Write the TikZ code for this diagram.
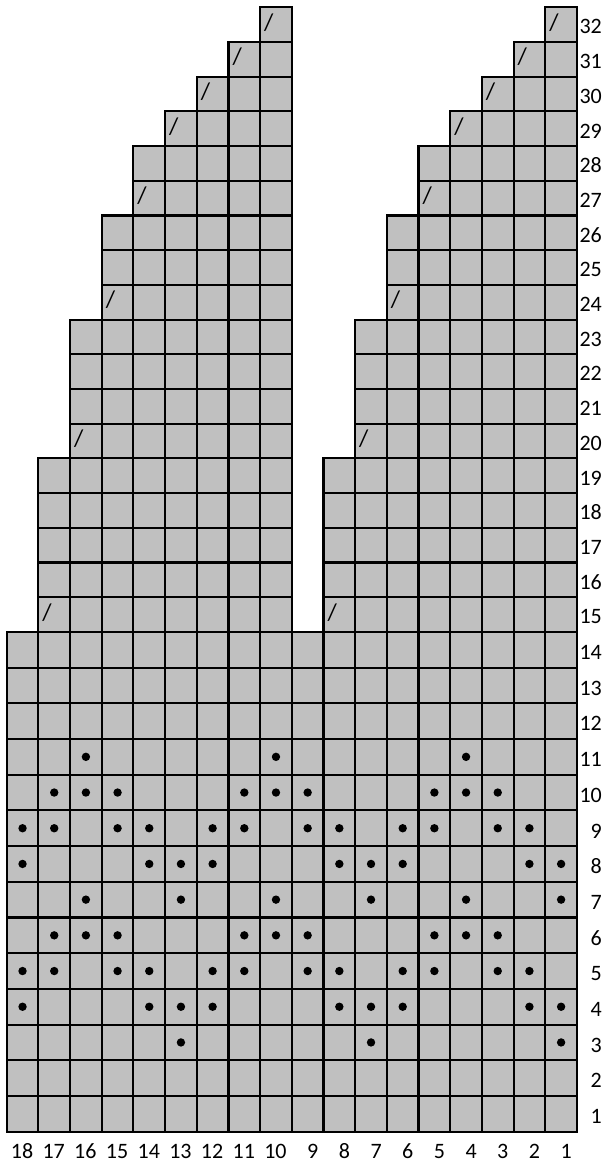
\documentclass[tikz,border=0pt]{standalone}
\usepackage{fontspec}
\setmainfont{Carlito}
\definecolor{cellgray}{HTML}{C0C0C0}
\begin{document}
\begin{tikzpicture}[x=1pt,y=1pt,
  cell/.style={fill=cellgray,draw=black,line width=2.1pt},
  stitchdot/.style={circle,fill=black,draw=none,inner sep=0pt,minimum size=8.4pt},
  lbl/.style={font=\fontsize{22}{24}\selectfont,inner sep=0pt},
  slashmark/.style={font=\fontsize{24}{26}\selectfont,inner sep=0pt}]
\useasboundingbox (0,0) rectangle (606,1163);
\def\xo{6.7}\def\cw{31.68}\def\yb{31.3}\def\rhl{35.7}\def\rhu{34.7}
% row bottom and height
\def\rowgeom#1{%
  \pgfmathsetmacro\yy{(#1<=14) ? (\yb+(#1-1)*\rhl) : (\yb+14*\rhl+(#1-15)*\rhu)}%
  \pgfmathsetmacro\hh{(#1<=14) ? \rhl : \rhu}}
% grid cells
\foreach \r/\L/\R in {1/18/9,2/18/9,3/18/9,4/18/9,5/18/9,6/18/9,7/18/9,8/18/9,9/18/9,10/18/9,11/18/9,12/18/9,13/18/9,14/18/9,
  15/17/8,16/17/8,17/17/8,18/17/8,19/17/8,20/16/7,21/16/7,22/16/7,23/16/7,24/15/6,25/15/6,26/15/6,27/14/5,28/14/5,
  29/13/4,30/12/3,31/11/2,32/10/1}{
  \rowgeom{\r}
  \foreach \c in {10,...,\L}{
    \pgfmathsetmacro\xx{\xo+(18-\c)*\cw}
    \draw[cell] (\xx,\yy) rectangle ++(\cw,\hh);
  }
  \foreach \c in {1,...,\R}{
    \pgfmathsetmacro\xx{\xo+(18-\c)*\cw}
    \draw[cell] (\xx,\yy) rectangle ++(\cw,\hh);
  }
}
% dots
\foreach \c/\r in {16/11,10/11,4/11,
  17/10,16/10,15/10,11/10,10/10,9/10,5/10,4/10,3/10,
  18/9,17/9,15/9,14/9,12/9,11/9,9/9,8/9,6/9,5/9,3/9,2/9,
  18/8,14/8,13/8,12/8,8/8,7/8,6/8,2/8,1/8,
  16/7,13/7,10/7,7/7,4/7,1/7,
  17/6,16/6,15/6,11/6,10/6,9/6,5/6,4/6,3/6,
  18/5,17/5,15/5,14/5,12/5,11/5,9/5,8/5,6/5,5/5,3/5,2/5,
  18/4,14/4,13/4,12/4,8/4,7/4,6/4,2/4,1/4,
  13/3,7/3,1/3}{
  \rowgeom{\r}
  \pgfmathsetmacro\xx{\xo+(18.5-\c)*\cw}
  \pgfmathsetmacro\cy{\yy+0.5*\hh}
  \node[stitchdot] (d\c-\r) at (\xx,\cy) {};
}
% slashes
\foreach \c/\r in {17/15,8/15,16/20,7/20,15/24,6/24,14/27,5/27,13/29,4/29,12/30,3/30,11/31,2/31,10/32,1/32}{
  \rowgeom{\r}
  \pgfmathsetmacro\xx{\xo+(18-\c)*\cw+8.7}
  \pgfmathsetmacro\cy{\yy+\hh-15}
  \node[slashmark] (s\c-\r) at (\xx,\cy) {/};
}
% column labels
\foreach \c in {1,...,18}{
  \pgfmathsetmacro\xx{\xo+(19-\c)*\cw-5}
  \node[lbl,anchor=base east] (col\c) at (\xx,5) {\c};
}
% row labels
\foreach \r in {1,...,32}{
  \rowgeom{\r}
  \pgfmathsetmacro\cy{\yy+8}
  \node[lbl,anchor=base east] (row\r) at (602,\cy) {\r};
}
\end{tikzpicture}
\end{document}
